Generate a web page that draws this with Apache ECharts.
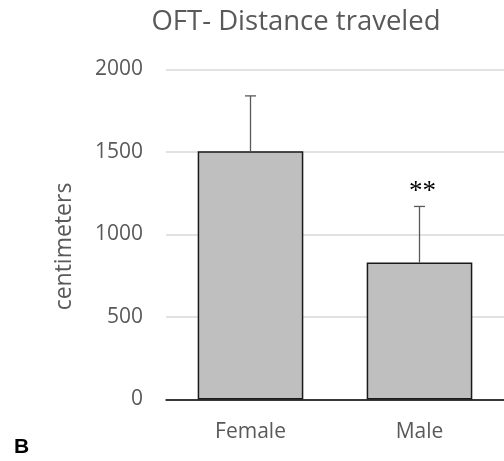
<!DOCTYPE html>
<html>
<head>
<meta charset="utf-8">
<script src="https://cdn.jsdelivr.net/npm/echarts@6/dist/echarts.min.js"></script>
<style>html,body{margin:0;padding:0;background:#fff}#c{width:504px;height:461px}</style>
</head>
<body>
<div id="c"></div>
<script>
var categories = ['Female', 'Male'];
var means = [1505, 830];
var upperErrors = [1840, 1170];
var sigMarks = ['', '**'];
var yTicks = { min: 0, max: 2000, interval: 500 };

var chart = echarts.init(document.getElementById('c'));
var FONT = '"Open Sans", sans-serif';
chart.setOption({
  animation: false,
  title: {
    text: 'OFT- Distance traveled',
    left: 291, top: 3, textAlign: 'center',
    textStyle: { fontFamily: FONT, fontSize: 27.5, fontWeight: 'normal', color: '#595959' }
  },
  graphic: [{
    type: 'text', left: 14, top: 437,
    style: { text: 'B', font: 'bold 21px "Liberation Sans", Arial, sans-serif', fill: '#000' }
  }],
  grid: { left: 166, top: 69.5, width: 344, height: 330 },
  xAxis: {
    type: 'category', data: categories,
    axisLine: { lineStyle: { color: '#000', width: 1.5 } },
    axisTick: { show: false },
    axisLabel: { fontFamily: FONT, fontSize: 21, color: '#595959', margin: 22 }
  },
  yAxis: {
    type: 'value', min: yTicks.min, max: yTicks.max, interval: yTicks.interval,
    name: 'centimeters', nameLocation: 'middle', nameGap: 90,
    nameTextStyle: { fontFamily: FONT, fontSize: 23, color: '#595959', padding: [0, 24, 0, 0] },
    axisLine: { show: false }, axisTick: { show: false },
    axisLabel: { fontFamily: FONT, fontSize: 21, color: '#595959', margin: 23,
      formatter: function (v) { return String(v); } },
    splitLine: { lineStyle: { color: '#d9d9d9', width: 1.5 } }
  },
  series: [{
    type: 'bar', data: means, barWidth: '62.5%',
    itemStyle: { color: '#bfbfbf', borderColor: '#1a1a1a', borderWidth: 1.5 },
    z: 2
  }, {
    type: 'custom',
    data: categories.map(function (c, i) { return [i, means[i], upperErrors[i]]; }),
    renderItem: function (params, api) {
      var i = api.value(0);
      var base = api.coord([i, api.value(1)]);
      var top = api.coord([i, api.value(2)]);
      var hw = 5.5;
      var children = [
        { type: 'line', shape: { x1: base[0], y1: base[1], x2: top[0], y2: top[1] }, style: { stroke: '#595959', lineWidth: 1.3 } },
        { type: 'line', shape: { x1: top[0] - hw, y1: top[1], x2: top[0] + hw, y2: top[1] }, style: { stroke: '#595959', lineWidth: 1.3 } }
      ];
      if (sigMarks[i]) {
        children.push({ type: 'text', x: top[0] + 3, y: top[1] - 1,
          style: { text: sigMarks[i], font: '27px "Liberation Serif", serif', fill: '#000', textAlign: 'center', textVerticalAlign: 'bottom' } });
      }
      return { type: 'group', children: children };
    },
    z: 3
  }]
});
</script>
</body>
</html>
